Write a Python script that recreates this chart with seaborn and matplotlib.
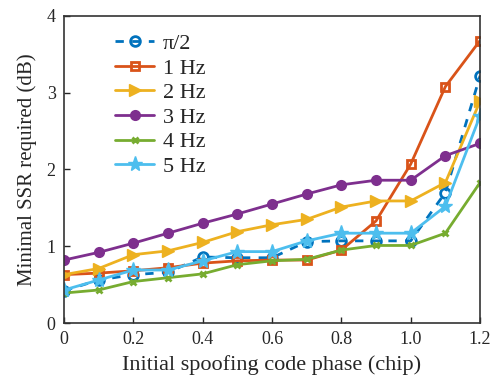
import numpy as np
import pandas as pd
import matplotlib
matplotlib.use("Agg")
import matplotlib.pyplot as plt
import seaborn as sns

x = [0.0, 0.1, 0.2, 0.3, 0.4, 0.5, 0.6, 0.7, 0.8, 0.9, 1.0, 1.1, 1.2]
labels = ["π/2", "1 Hz", "2 Hz", "3 Hz", "4 Hz", "5 Hz"]
y_pi2 = [0.42, 0.56, 0.63, 0.66, 0.86, 0.85, 0.85, 1.06, 1.07, 1.07, 1.07, 1.70, 3.22]
y_1hz = [0.63, 0.65, 0.68, 0.72, 0.78, 0.81, 0.82, 0.82, 0.95, 1.33, 2.07, 3.08, 3.68]
y_2hz = [0.63, 0.71, 0.89, 0.94, 1.05, 1.19, 1.28, 1.35, 1.51, 1.59, 1.59, 1.83, 2.89]
y_3hz = [0.82, 0.92, 1.04, 1.17, 1.30, 1.42, 1.55, 1.68, 1.80, 1.86, 1.86, 2.18, 2.34]
y_4hz = [0.39, 0.43, 0.54, 0.59, 0.64, 0.76, 0.81, 0.83, 0.95, 1.01, 1.01, 1.17, 1.83]
y_5hz = [0.43, 0.56, 0.69, 0.69, 0.81, 0.93, 0.93, 1.07, 1.17, 1.17, 1.17, 1.52, 2.70]
series = [y_pi2, y_1hz, y_2hz, y_3hz, y_4hz, y_5hz]

colors = ["#0072BD", "#D95319", "#EDB120", "#7E2F8E", "#77AC30", "#4DBEEE"]
markers = ["o", "s", ">", "o", "x", "*"]
msizes = [7, 6, 9, 6, 5, 11]
mfaces = ["none", "none", None, None, None, None]
styles = [(0, (3, 3)), "-", "-", "-", "-", "-"]

sns.set_style("ticks")
plt.rcParams["font.family"] = ["Liberation Serif", "DejaVu Serif"]
plt.rcParams["mathtext.fontset"] = "stix"

fig = plt.figure(figsize=(4.98, 3.80), dpi=100)
ax = fig.add_axes([0.1285, 0.15, 0.8355, 0.808])

for ys, lab, c, m, ms, mf, ls in zip(series, labels, colors, markers, msizes, mfaces, styles):
    df = pd.DataFrame({"x": x, "y": ys})
    kw = dict(marker=m, markersize=ms, color=c, linewidth=2, label=lab,
              markeredgecolor=c, markeredgewidth=2 if m in ("o", "s", "x") else 1)
    if mf is not None:
        kw["markerfacecolor"] = mf
    else:
        kw["markerfacecolor"] = c
    sns.lineplot(data=df, x="x", y="y", ax=ax, linestyle=ls, **kw)

ax.set_xlim(0, 1.2)
ax.set_ylim(0, 4)
ax.set_xticks([0, 0.2, 0.4, 0.6, 0.8, 1.0, 1.2])
ax.set_xticklabels(["0", "0.2", "0.4", "0.6", "0.8", "1.0", "1.2"])
ax.set_yticks([0, 1, 2, 3, 4])
ax.tick_params(direction="in", labelsize=13, length=4, width=1, pad=6)
for s in ax.spines.values():
    s.set_visible(True)
    s.set_linewidth(1.2)
    s.set_color("#333333")
ax.set_xlabel("Initial spoofing code phase (chip)", fontsize=16, labelpad=5)
ax.set_ylabel("Minimal SSR required (dB)", fontsize=15, labelpad=7)

leg = ax.legend(loc="upper left", bbox_to_anchor=(0.075, 1.008), frameon=False,
                fontsize=16, handlelength=1.75, handletextpad=0.4, labelspacing=0.18)

fig.savefig("out.png", dpi=100)
